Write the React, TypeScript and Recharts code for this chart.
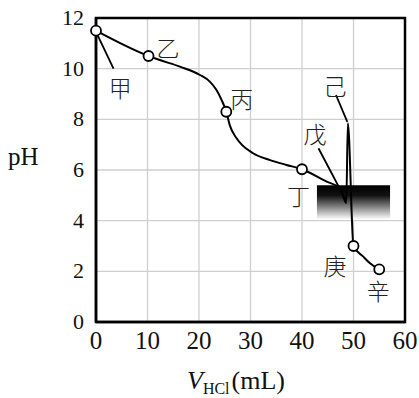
import {
  CartesianGrid,
  ComposedChart,
  Line,
  ReferenceArea,
  ReferenceLine,
  Scatter,
  XAxis,
  YAxis,
} from 'recharts'

// titration curve
const curveV = [0, 10.2, 12.4, 16.3, 20.2, 22.1, 23.4, 24.4, 25.3, 26.0, 27.3, 30.5, 33.8, 37.0, 40.0, 44.8, 47.4, 48.6, 48.9, 50.0, 51.9, 53.2, 55.0]
const curvePH = [11.5, 10.5, 10.34, 10.08, 9.75, 9.49, 9.16, 8.76, 8.3, 7.75, 7.25, 6.66, 6.39, 6.2, 6.03, 5.54, 5.28, 4.7, 7.85, 3.0, 2.58, 2.32, 2.08]

// hollow markers
const markerV = [0, 10.2, 25.3, 40, 50, 55]
const markerPH = [11.5, 10.5, 8.3, 6.03, 3.0, 2.08]

// point names
const labelNames = ['甲', '乙', '丙', '丁', '戊', '己', '庚', '辛']
const labelV = [4.7, 14, 28.3, 39.3, 42.5, 46.4, 46.4, 54.8]
const labelPH = [9.28, 10.86, 8.83, 5.01, 7.45, 9.35, 2.25, 1.26]

const xTicks = [0, 10, 20, 30, 40, 50, 60]
const yTicks = [0, 2, 4, 6, 8, 10, 12]

const serif = '"Liberation Serif", "Times New Roman", serif'
const cjk = '"Noto Sans CJK SC", sans-serif'

const curveData = curveV.map((v, i) => ({ v, ph: curvePH[i] }))
const markerData = markerV.map((v, i) => ({ v, ph: markerPH[i] }))
const labelData = labelNames.map((name, i) => ({ name, v: labelV[i], ph: labelPH[i] }))

function HollowDot(props: any) {
  const { cx, cy } = props
  return <circle cx={cx} cy={cy} r={5} fill="#fff" stroke="#000" strokeWidth={1.8} />
}

function NameText(props: any) {
  const { cx, cy, payload } = props
  return (
    <text
      x={cx}
      y={cy}
      textAnchor="middle"
      dominantBaseline="central"
      fill="#222"
      style={{ fontSize: 23, fontWeight: 300, fontFamily: cjk }}
    >
      {payload.name}
    </text>
  )
}

const renderXTick = (props: any) => {
  const { x, y, payload } = props
  return (
    <text key={payload.value} x={x} y={y + 27} textAnchor="middle" fill="#111" style={{ fontSize: 25, fontFamily: serif }}>
      {payload.value}
    </text>
  )
}

const renderYTick = (props: any) => {
  const { x, y, payload } = props
  return (
    <text key={payload.value} x={x} y={y + 7} textAnchor="end" fill="#111" style={{ fontSize: 22, fontFamily: serif }}>
      {payload.value}
    </text>
  )
}

function XTitle(props: any) {
  const { viewBox } = props
  const x = viewBox.x + 91
  const y = viewBox.y + 67
  return (
    <text x={x} y={y} fill="#111" style={{ fontFamily: serif }}>
      <tspan fontSize={26} fontStyle="italic">V</tspan>
      <tspan fontSize={16} dy={5}>HCl</tspan>
      <tspan fontSize={26} dy={-5} dx={2}>(mL)</tspan>
    </text>
  )
}

function YTitle(props: any) {
  const { viewBox } = props
  return (
    <text x={viewBox.x + 8} y={viewBox.y + 147} fill="#111" style={{ fontSize: 25, fontFamily: serif }}>
      pH
    </text>
  )
}

export default function App() {
  return (
    <div style={{ position: 'absolute', left: 0, top: 0, background: '#fff', fontFamily: serif }}>
      <ComposedChart width={419} height={398} margin={{ top: 18, right: 14, left: 0, bottom: 0 }}>
        <defs>
          <linearGradient id="shade" x1="0" y1="0" x2="0" y2="1">
            <stop offset="0%" stopColor="#000" />
            <stop offset="30%" stopColor="#111" />
            <stop offset="100%" stopColor="#fff" />
          </linearGradient>
        </defs>
        <CartesianGrid stroke="#cfcfcf" strokeWidth={1.3} />
        <XAxis
          type="number"
          dataKey="v"
          domain={[0, 60]}
          ticks={xTicks}
          height={76}
          axisLine={{ stroke: '#000', strokeWidth: 2.5 }}
          tickLine={false}
          tickSize={0}
          tickMargin={0}
          tick={renderXTick}
          label={<XTitle />}
        />
        <YAxis
          type="number"
          dataKey="ph"
          domain={[0, 12]}
          ticks={yTicks}
          width={96}
          axisLine={{ stroke: '#000', strokeWidth: 2.5 }}
          tickLine={false}
          tickSize={0}
          tickMargin={12}
          tick={renderYTick}
          label={<YTitle />}
        />
        <ReferenceArea x1={42.9} x2={57.1} y1={4.05} y2={5.4} fill="url(#shade)" fillOpacity={1} stroke="none" />
        <ReferenceArea
          x1={0}
          x2={60}
          y1={0}
          y2={12}
          fill="none"
          stroke="#000"
          strokeWidth={2.5}
          ifOverflow="visible"
        />
        <ReferenceLine segment={[{ x: 0.35, y: 11.3 }, { x: 3.4, y: 10.0 }]} stroke="#000" strokeWidth={1.8} />
        <ReferenceLine segment={[{ x: 43.2, y: 6.86 }, { x: 48.4, y: 4.85 }]} stroke="#000" strokeWidth={1.8} />
        <ReferenceLine segment={[{ x: 46.6, y: 8.96 }, { x: 48.8, y: 7.9 }]} stroke="#000" strokeWidth={1.8} />
        <Line
          data={curveData}
          dataKey="ph"
          type="monotone"
          stroke="#000"
          strokeWidth={2}
          dot={false}
          activeDot={false}
          isAnimationActive={false}
        />
        <Scatter data={markerData} dataKey="ph" shape={<HollowDot />} isAnimationActive={false} />
        <Scatter data={labelData} dataKey="ph" shape={<NameText />} isAnimationActive={false} />
      </ComposedChart>
    </div>
  )
}
